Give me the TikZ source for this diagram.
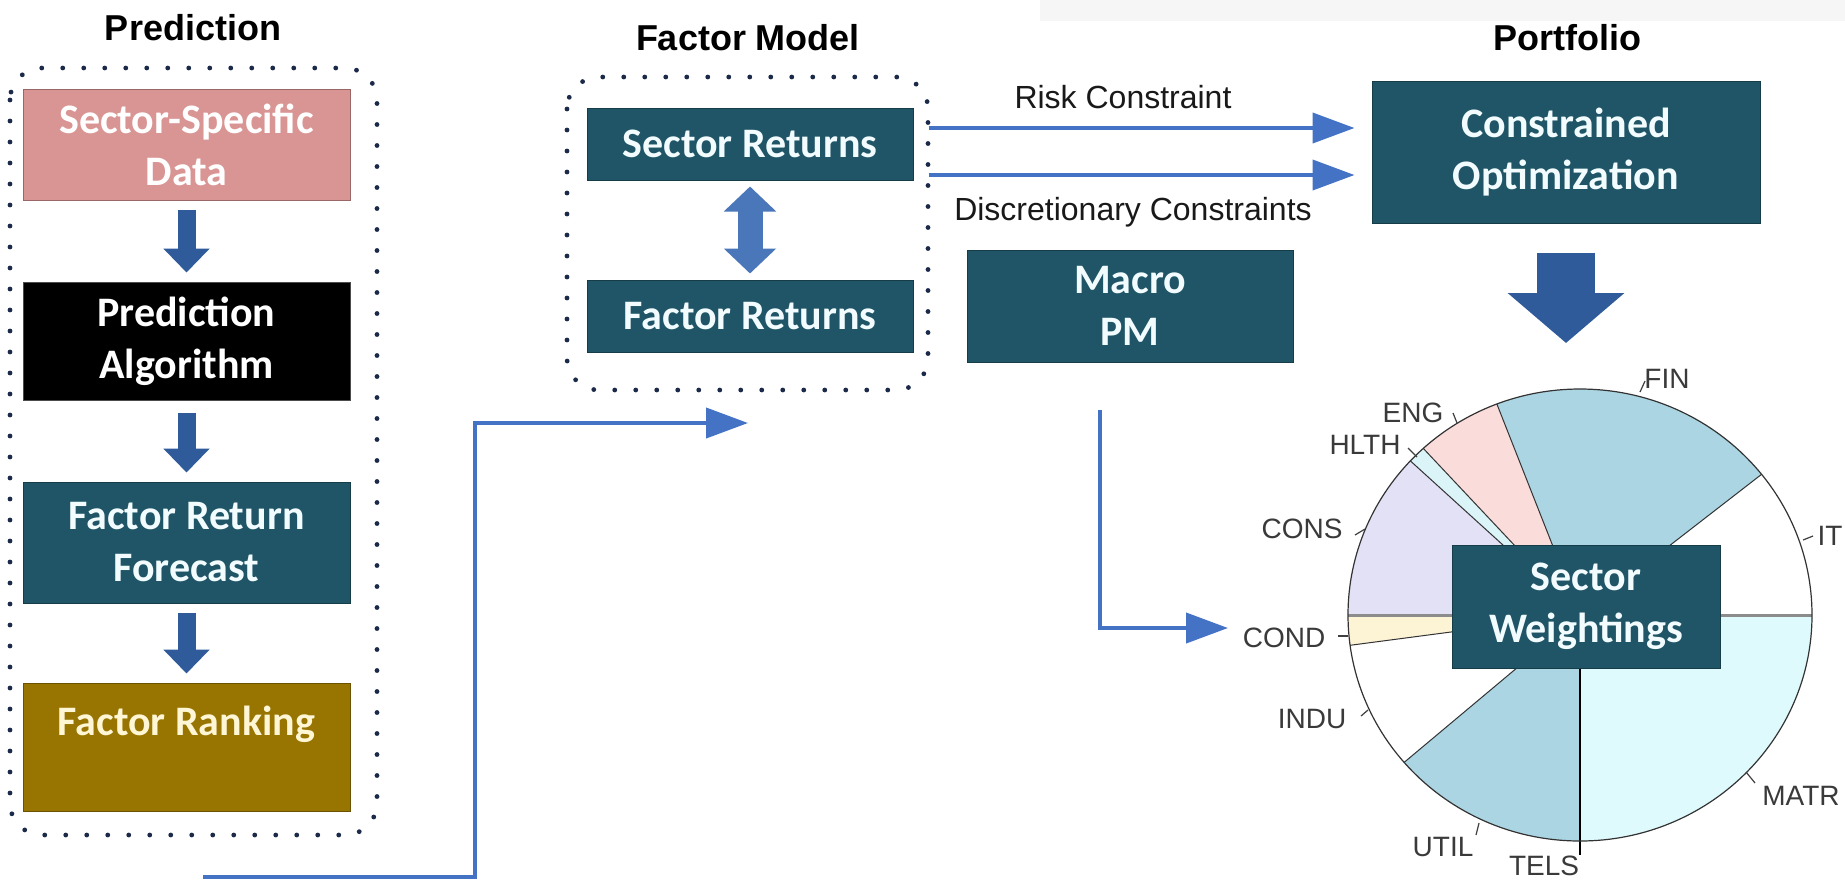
\documentclass[tikz,border=0pt]{standalone}
\usepackage{fontspec}
\newfontfamily\boxfont{Carlito}
\newfontfamily\arialfont{Liberation Sans}
\usetikzlibrary{arrows.meta}
\definecolor{tealbox}{HTML}{1F5566}
\definecolor{salmonbox}{HTML}{D99594}
\definecolor{goldbox}{HTML}{987500}
\definecolor{creamtext}{HTML}{FFF6D5}
\definecolor{boxwhite}{HTML}{F2FCFF}
\definecolor{arrowdark}{HTML}{2F5B9A}
\definecolor{arrowmid}{HTML}{4A77B9}
\definecolor{arrowlight}{HTML}{4472C4}
\definecolor{dotnavy}{HTML}{1C2A4A}
\definecolor{fincol}{HTML}{ABD5E3}
\definecolor{engcol}{HTML}{FADCDB}
\definecolor{hlthcol}{HTML}{DAF4F8}
\definecolor{conscol}{HTML}{E2E1F5}
\definecolor{condcol}{HTML}{FDF4D6}
\definecolor{matrcol}{HTML}{DEFAFD}
\definecolor{bandgray}{HTML}{F6F6F6}
\definecolor{labelgray}{HTML}{3A3A3A}
\begin{document}
\begin{tikzpicture}[x=0.5pt,y=-0.5pt,
  box/.style={draw=#1!70!black, line width=0.5pt, fill=#1, inner sep=0pt, align=center,
    font=\boxfont\bfseries\fontsize{21}{26}\selectfont},
  title/.style={font=\arialfont\bfseries\fontsize{18}{22}\selectfont, text=black, anchor=base, inner sep=0pt},
  lbl/.style={font=\arialfont\fontsize{16}{19}\selectfont, text=black!90, anchor=base, inner sep=0pt},
  pielbl/.style={font=\arialfont\fontsize{14}{17}\selectfont, text=labelgray, anchor=base, inner sep=0pt},
  dotbox/.style={draw=dotnavy, line width=2.4pt, line cap=round, dash pattern=on 0pt off 10.5pt, rounded corners=16pt},
  blockarrow/.style={draw=arrowdark, line width=9pt, -{Triangle[width=22.5pt,length=12pt]}, shorten <=4.5pt, shorten >=4.5pt},
  dblarrow/.style={draw=arrowmid, line width=12.5pt, {Triangle[width=25.5pt,length=12.5pt]}-{Triangle[width=25.5pt,length=12.5pt]}, shorten <=3pt, shorten >=3pt},
  bigarrow/.style={draw=arrowdark, line width=29pt, -{Triangle[width=57pt,length=25pt]}},
  thinarrow/.style={draw=arrowlight, line width=2pt, -{Triangle[width=15pt,length=21pt]}},
  pieline/.style={draw=black!80, line width=0.5pt},
  tick/.style={draw=black!75, line width=0.6pt}
]
\useasboundingbox (0,0) rectangle (1845,880);
\fill[white] (0,0) rectangle (1845,880);
\fill[bandgray] (1040,0) rectangle (1845,21);

% titles
\node[title] (tpred) at (193,40) {Prediction};
\node[title] (tfm) at (748,50) {Factor Model};
\node[title] (tport) at (1567,50) {Portfolio};

% group frames
\draw[dotbox] (10,68) rectangle (377,835);
\draw[dotbox] (567,77) rectangle (928,390);

% prediction column
\node[box=salmonbox, text=white, minimum width=163.5pt, minimum height=55.5pt] (ssd) at (186.5,144.5) {Sector-Specific\\Data};
\node[box=black, draw=black!70, text=white, minimum width=163.5pt, minimum height=59pt] (pa) at (186.5,341) {Prediction\\Algorithm};
\node[box=tealbox, text=boxwhite, minimum width=163.5pt, minimum height=60.5pt] (frf) at (186.5,542.5) {Factor Return\\Forecast};
\node[box=goldbox, text=creamtext, minimum width=163.5pt, minimum height=64pt] (frk) at (186.5,747) {Factor Ranking\\\mbox{}};
\draw[blockarrow] (ssd) -- (pa);
\draw[blockarrow, shorten <=6pt] (pa) -- (frf);
\draw[blockarrow] (frf) -- (frk);

% factor model
\node[box=tealbox, text=boxwhite, minimum width=163pt, minimum height=36pt] (sr) at (750,144) {Sector Returns};
\node[box=tealbox, text=boxwhite, minimum width=163pt, minimum height=36pt] (fret) at (750,316) {Factor Returns};
\draw[dblarrow] (sr) -- (fret);

% portfolio
\node[box=tealbox, text=boxwhite, minimum width=194pt, minimum height=71pt] (co) at (1566,152) {Constrained\\Optimization};
\node[box=tealbox, text=boxwhite, minimum width=163pt, minimum height=56pt] (mpm) at (1130,306) {Macro\\PM};

% constraint arrows
\draw[thinarrow] ([shift={(15,-16)}]sr.east) -- ([shift={(-17,-24)}]co.west);
\draw[thinarrow] ([shift={(15,31)}]sr.east) -- ([shift={(-17,23)}]co.west);
\node[lbl] (lrisk) at (1123,108) {Risk Constraint};
\node[lbl] (ldisc) at (1133,220) {Discretionary Constraints};

% big arrow
\coordinate (bigtip) at (1566,343);
\draw[bigarrow, shorten <=14.5pt] (co.south) -- (bigtip);

% connectors
\coordinate (predout) at (203,877);
\coordinate (bend) at (475,423);
\coordinate (fmin) at (748,423);
\draw[thinarrow] (predout) -| (bend) -- (fmin);
\coordinate (mpmout) at (1100,410);
\coordinate (condin) at (1228,628);
\draw[thinarrow] (mpmout) |- (condin);

% pie
\begin{scope}[shift={(1580,615)}]
\fill[white] (0pt,0pt) -- (0:116pt and 113pt) arc[start angle=0,end angle=38.5,x radius=116pt,y radius=113pt] -- cycle;
\fill[fincol] (0pt,0pt) -- (38.5:116pt and 113pt) arc[start angle=38.5,end angle=111,x radius=116pt,y radius=113pt] -- cycle;
\fill[engcol] (0pt,0pt) -- (111:116pt and 113pt) arc[start angle=111,end angle=132.5,x radius=116pt,y radius=113pt] -- cycle;
\fill[hlthcol] (0pt,0pt) -- (132.5:116pt and 113pt) arc[start angle=132.5,end angle=137,x radius=116pt,y radius=113pt] -- cycle;
\fill[conscol] (0pt,0pt) -- (137:116pt and 113pt) arc[start angle=137,end angle=180,x radius=116pt,y radius=113pt] -- cycle;
\fill[condcol] (0pt,0pt) -- (180:116pt and 113pt) arc[start angle=180,end angle=187.7,x radius=116pt,y radius=113pt] -- cycle;
\fill[white] (0pt,0pt) -- (187.7:116pt and 113pt) arc[start angle=187.7,end angle=220.7,x radius=116pt,y radius=113pt] -- cycle;
\fill[fincol] (0pt,0pt) -- (220.7:116pt and 113pt) arc[start angle=220.7,end angle=270,x radius=116pt,y radius=113pt] -- cycle;
\fill[matrcol] (0pt,0pt) -- (270:116pt and 113pt) arc[start angle=270,end angle=360,x radius=116pt,y radius=113pt] -- cycle;
\foreach \a in {38.5,111,132.5,137,187.7,220.7}
  \draw[pieline] (0pt,0pt) -- (\a:116pt and 113pt);
\draw[draw=black!45, line width=1.5pt] (180:116pt and 113pt) -- (0:116pt and 113pt);
\draw[draw=black, line width=0.7pt] (0pt,0pt) -- (0pt,-120pt);
\draw[draw=black!80, line width=0.6pt] (0pt,0pt) ellipse [x radius=116pt, y radius=113pt];
\end{scope}

% pie ticks
\draw[tick] (1640,392) -- (1645,381);
\draw[tick] (1803,540) -- (1813,536);
\draw[tick] (1746,772) -- (1755,783);
\draw[tick] (1479,823) -- (1476,835);
\draw[tick] (1361,716) -- (1368,710);
\draw[tick] (1338,636) -- (1348,636);
\draw[tick] (1355,535) -- (1365,529);
\draw[tick] (1408,448) -- (1417,457);
\draw[tick] (1453,413) -- (1457,423);

% pie labels
\node[pielbl] (lfin) at (1667,388) {FIN};
\node[pielbl] (lit) at (1830,545) {IT};
\node[pielbl] (lmatr) at (1801,805) {MATR};
\node[pielbl] (ltels) at (1544,875) {TELS};
\node[pielbl] (lutil) at (1443,856) {UTIL};
\node[pielbl] (lindu) at (1312,728) {INDU};
\node[pielbl] (lcond) at (1284,647) {COND};
\node[pielbl] (lcons) at (1302,538) {CONS};
\node[pielbl] (lhlth) at (1365,454) {HLTH};
\node[pielbl] (leng) at (1413,422) {ENG};

\node[box=tealbox, text=boxwhite, minimum width=134pt, minimum height=61.5pt] (sw) at (1586,606.5) {Sector\\Weightings};
\end{tikzpicture}
\end{document}
